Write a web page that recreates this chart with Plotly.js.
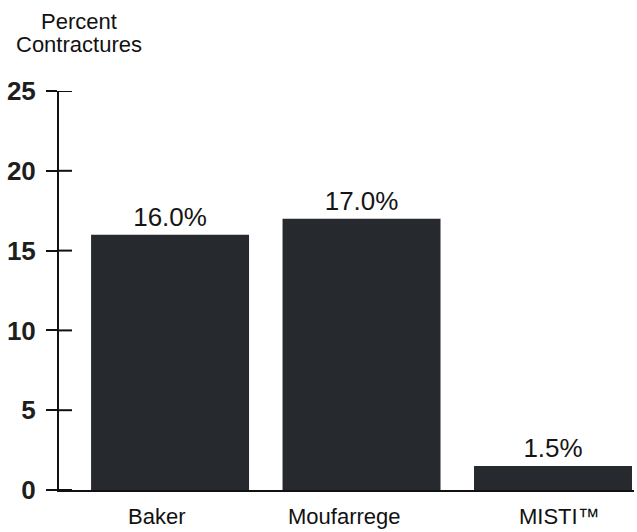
<!DOCTYPE html>
<html>
<head>
<meta charset="utf-8">
<script src="https://cdn.plot.ly/plotly-3.0.1.min.js"></script>
<style>html,body{margin:0;padding:0;background:#fff;}#chart{width:637px;height:532px;}</style>
</head>
<body>
<div id="chart"></div>
<script>
const categories = ["Baker", "Moufarrege", "MISTI™"];
const percentContractures = [16.0, 17.0, 1.5];
const barLabels = ["16.0%", "17.0%", "1.5%"];
const yTickValues = [0, 5, 10, 15, 20, 25];
const yTickLabels = ["0", "5", "10", "15", "20", "25"];
const titleLines = ["Percent", "Contractures"];

const FAM = "Liberation Sans, Arial, Helvetica, sans-serif";
const INNER_TICK = 13 / 575;            // inner half of each crossing tick, in paper units
const labelNudge = [-14, -17, 6];       // the scanned original's category labels sit slightly off-centre

const barTrace = {
  type: "bar",
  x: categories,
  y: percentContractures,
  text: barLabels,
  textposition: "outside",
  cliponaxis: false,
  textfont: {family: FAM, size: 26, color: "#151515"},
  marker: {color: "#26292d", line: {width: 0}},
  hoverinfo: "skip"
};

const annotations = [
  {
    xref: "paper", yref: "paper", x: 0.035, y: 1.0, yshift: 70,
    xanchor: "center", yanchor: "middle", showarrow: false,
    text: titleLines[0], font: {family: FAM, size: 22, color: "#111"}
  },
  {
    xref: "paper", yref: "paper", x: 0.035, y: 1.0, yshift: 47,
    xanchor: "center", yanchor: "middle", showarrow: false,
    text: titleLines[1], font: {family: FAM, size: 22, color: "#111"}
  }
].concat(categories.map((c, i) => ({
  xref: "x", yref: "y", x: c, y: 0, yshift: -12, xshift: labelNudge[i],
  xanchor: "center", yanchor: "top", showarrow: false,
  text: c, font: {family: FAM, size: 22, color: "#111"}
})));

const shapes = yTickValues.map(v => ({
  type: "line", xref: "paper", yref: "y",
  x0: 0, x1: INNER_TICK, y0: v, y1: v,
  line: {color: "#111", width: 2}
}));

const layout = {
  width: 637, height: 532,
  margin: {l: 59, r: 3, t: 91, b: 42, pad: 0},
  paper_bgcolor: "#ffffff", plot_bgcolor: "#ffffff",
  showlegend: false,
  bargap: 0.175,
  xaxis: {
    type: "category", categoryorder: "array", categoryarray: categories,
    range: [-0.58, 2.423],
    showline: true, linecolor: "#111", linewidth: 2,
    ticks: "", showgrid: false, zeroline: false, showticklabels: false
  },
  yaxis: {
    range: [0, 25], tickvals: yTickValues, ticktext: yTickLabels,
    showline: true, linecolor: "#111", linewidth: 2,
    ticks: "outside", ticklen: 11, tickwidth: 2, tickcolor: "#111",
    showgrid: false, zeroline: false,
    ticklabelstandoff: 5,
    tickfont: {family: FAM, size: 26, color: "#1e1e1e", weight: "bold"}
  },
  shapes: shapes,
  annotations: annotations
};

Plotly.newPlot("chart", [barTrace], layout, {displayModeBar: false, staticPlot: true});
</script>
</body>
</html>
